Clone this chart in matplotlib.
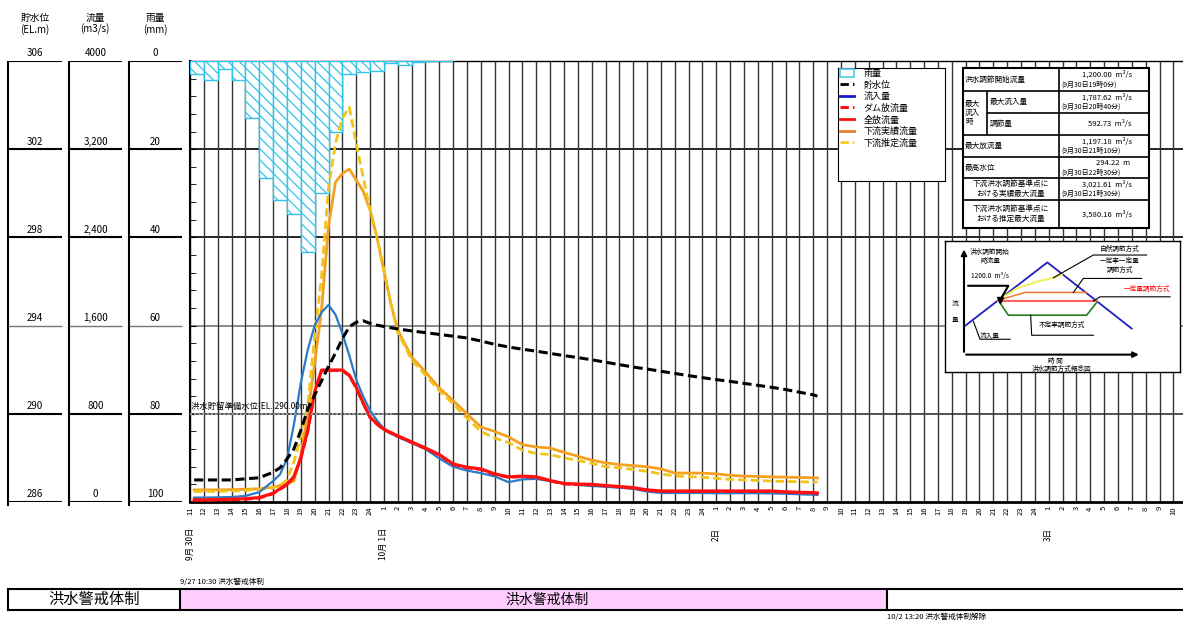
import matplotlib
matplotlib.use("Agg")
import matplotlib.pyplot as plt
from matplotlib.patches import Patch, Rectangle
from matplotlib.lines import Line2D
from matplotlib.ticker import MultipleLocator
from matplotlib.transforms import blended_transform_factory

plt.rcParams['font.family'] = ['Noto Sans CJK JP', 'DejaVu Sans']
plt.rcParams['hatch.linewidth'] = 0.9

# ---- データ ----
# 時刻 (9/30 11:00 からの経過時間 [h])
t_hours = [0.3, 1, 2, 3, 4, 5, 6, 6.5, 7, 7.5, 8, 8.5, 9, 9.5, 10, 10.5, 11, 11.5,
           12, 12.5, 13, 13.5, 14, 14.5, 15, 16, 17, 18, 19, 20, 21, 22, 23, 24,
           25, 26, 27, 28, 29, 30, 31, 32, 33, 34, 35, 36, 37, 38, 39, 40, 41, 42,
           43, 44, 45, 45.3]

water_level = [287.0, 287.0, 287.0, 287.0, 287.05, 287.1, 287.35, 287.55, 287.95, 288.4,
               289.25, 290.2, 290.85, 291.5, 292.15, 292.75, 293.4, 293.95, 294.15, 294.22,
               294.1, 294.02, 293.96, 293.9, 293.85, 293.76, 293.68, 293.6, 293.52, 293.44,
               293.3, 293.15, 293.03, 292.93, 292.84, 292.74, 292.64, 292.55, 292.45, 292.34,
               292.23, 292.12, 292.03, 291.93, 291.83, 291.73, 291.64, 291.55, 291.47, 291.38,
               291.29, 291.2, 291.1, 290.98, 290.86, 290.8]

inflow = [40, 40, 42, 45, 55, 90, 190, 250, 390, 700, 1080, 1380, 1600, 1720, 1788, 1700,
          1530, 1330, 1110, 960, 830, 740, 665, 620, 590, 535, 480, 395, 320, 285, 262, 232,
          180, 205, 210, 190, 170, 155, 145, 138, 130, 120, 95, 82, 82, 82, 82, 80, 80, 80,
          80, 78, 75, 70, 66, 64]

dam_outflow = [15, 15, 17, 20, 25, 35, 75, 115, 155, 225, 390, 640, 990, 1190, 1192, 1192,
               1192, 1145, 1035, 895, 765, 705, 655, 625, 595, 540, 485, 425, 340, 310, 295,
               250, 223, 230, 223, 190, 163, 158, 155, 145, 135, 125, 105, 95, 95, 95, 95, 95,
               95, 95, 95, 95, 88, 84, 80, 78]

total_outflow = [20, 20, 22, 25, 30, 40, 80, 120, 160, 230, 400, 650, 1000, 1197, 1197, 1197,
                 1197, 1150, 1040, 900, 770, 710, 660, 630, 600, 545, 490, 430, 345, 315, 300,
                 255, 228, 235, 228, 195, 168, 163, 160, 150, 140, 130, 110, 100, 100, 100,
                 100, 100, 100, 100, 100, 100, 92, 88, 85, 82]

down_actual = [110, 110, 110, 112, 115, 120, 135, 150, 165, 190, 420, 800, 1250, 1750, 2500,
               2900, 2980, 3020, 2920, 2820, 2650, 2400, 2100, 1800, 1560, 1315, 1180, 1034,
               920, 800, 680, 640, 590, 520, 499, 490, 450, 415, 380, 355, 340, 330, 320, 300,
               263, 263, 262, 255, 242, 235, 232, 228, 225, 222, 220, 218]

down_estimate = [95, 95, 97, 100, 105, 115, 130, 150, 200, 360, 600, 870, 1500, 2050, 2850,
                 3250, 3480, 3580, 3250, 2950, 2650, 2400, 2100, 1800, 1540, 1290, 1150, 1010,
                 890, 760, 640, 580, 540, 470, 440, 430, 400, 378, 350, 320, 310, 295, 278, 255,
                 236, 230, 225, 215, 205, 200, 195, 190, 186, 183, 181, 181]

# 時間雨量 (9/30 11時台から)
rain_start = [0, 1, 2, 3, 4, 5, 6, 7, 8, 9, 10, 11, 12, 13, 14, 15, 16, 17, 18]
rain_mm = [2.9, 4.3, 1.8, 4.3, 12.9, 26.5, 31.5, 34.7, 43.3, 29.9, 16.1, 3.0, 2.5, 2.3,
           0.5, 0.9, 0.2, 0.1, 0.1]

hour_labels = ([str(h) for h in range(11, 25)] + [str(h) for h in range(1, 25)] * 2
               + [str(h) for h in range(1, 11)])
date_pos = [0, 14, 38, 62]
date_labels = ["9月 30日", "10月 1日", "2日", "3日"]

wl_ticks = [306, 302, 298, 294, 290, 286]
flow_ticks = ["4000", "3,200", "2,400", "1,600", "800", "0"]
rain_ticks = ["0", "20", "40", "60", "80", "100"]

table_rows = ["洪水調節開始流量", "最大流入量", "調節量", "最大放流量", "最高水位",
              "下流洪水調節基準点に\nおける実績最大流量", "下流洪水調節基準点に\nおける推定最大流量"]
table_vals = ["1,200.00  m³/s", "1,787.62  m³/s", "592.73  m³/s", "1,197.18  m³/s",
              "294.22  m ", "3,021.61  m³/s", "3,580.16  m³/s"]
table_times = ["(9月30日19時0分)", "(9月30日20時40分)", "", "(9月30日21時10分)",
               "(9月30日22時30分)", "(9月30日21時30分)", ""]

alert_end = 50 + 20 / 60  # 10/2 13:20

# ---- レイアウト ----
W, H = 1183, 621
PX_PER_HR = 13.85
XMAX = (W - 190) / PX_PER_HR


def px_rect(x0, y0, x1, y1):
    return [x0 / W, 1 - y1 / H, (x1 - x0) / W, (y1 - y0) / H]


fig = plt.figure(figsize=(W / 100, H / 100), dpi=100)

ax = fig.add_axes(px_rect(190, 61, W, 502))
ax.set_xlim(0, XMAX)
ax.set_ylim(0, 4000)
ax.set_xticks(range(72))
ax.set_xticklabels(hour_labels, rotation=90, fontsize=5.5)
ax.tick_params(axis='x', length=0, pad=3)
ax.grid(axis='x', color='#333333', lw=1)
ax.yaxis.set_major_locator(MultipleLocator(800))
ax.yaxis.set_minor_locator(MultipleLocator(160))
ax.tick_params(axis='y', which='both', direction='in', length=4, labelleft=False)
for y, c in zip([800, 1600, 2400, 3200], ['#333333', '#777777', 'black', 'black']):
    ax.axhline(y, color=c, lw=1.2, zorder=1)
ax.spines['right'].set_visible(False)
ax.spines['left'].set_linewidth(1.5)
ax.spines['bottom'].set_linewidth(2)
ax.spines['top'].set_linewidth(1)

tr = blended_transform_factory(ax.transData, ax.transAxes)
for x, lab in zip(date_pos, date_labels):
    ax.text(x, -0.058, lab, transform=tr, rotation=90, ha='center', va='top', fontsize=6)

# 雨量
ax_rain = ax.twinx()
ax_rain.set_ylim(100, 0)
ax_rain.bar(rain_start, rain_mm, width=1, align='edge', facecolor='white',
            edgecolor='#33c3e8', hatch='\\\\\\', lw=1)

# 流量
ax_q = ax.twinx()
ax_q.set_ylim(0, 4000)
ax_q.plot(t_hours, down_actual, color='#f5a020', lw=2)
ax_q.plot(t_hours, down_estimate, color='#f0c419', lw=2, ls='--', dashes=(3, 1.5))
ax_q.plot(t_hours, inflow, color='#2a7ac8', lw=1.6)
ax_q.plot(t_hours, dam_outflow, color='#ff0000', lw=2, ls='--', dashes=(3, 1.5))
ax_q.plot(t_hours, total_outflow, color='#ff1010', lw=2.3)

# 貯水位
ax_wl = ax.twinx()
ax_wl.set_ylim(286, 306)
ax_wl.plot(t_hours, water_level, color='black', lw=2.2, ls='--', dashes=(3, 1.5))
ax_wl.hlines(290, 0, 14.6, colors='#999999', linestyles=(0, (1, 1)), lw=1.5)
ax_wl.text(0.05, 290.1, "洪水貯留準備水位(EL. 290.00m)", fontsize=6, va='bottom', ha='left')

for a in (ax_rain, ax_q, ax_wl):
    a.set_yticks([])
    a.tick_params(right=False, labelright=False)
    for s in a.spines.values():
        s.set_visible(False)

# 左の目盛り欄
axl = fig.add_axes(px_rect(0, 61, 190, 502))
axl.set_xlim(0, 190)
axl.set_ylim(286, 306)
axl.axis('off')
cols = [(8, 62), (69, 122), (129, 182)]
for (x0, x1), labels in zip(cols, [[str(v) for v in wl_ticks], flow_ticks, rain_ticks]):
    axl.vlines(x0, 285.8, 306, colors='black', lw=1.5, clip_on=False)
    for v, lab in zip(wl_ticks, labels):
        c = '#777777' if v == 294 else 'black'
        axl.hlines(v, x0, x1, colors=c, lw=1.5 if c == 'black' else 1)
        axl.text((x0 + x1) / 2, v + 0.12, lab, ha='center', va='bottom', fontsize=7)
for x, head in zip([35, 95, 155], ["貯水位\n(EL.m)", "流量\n(m3/s)", "雨量\n(mm)"]):
    fig.text(x / W, 1 - 24 / H, head, ha='center', va='center', fontsize=7, linespacing=1.1)

# 凡例
axleg = fig.add_axes(px_rect(838, 68, 945, 181))
axleg.set_xticks([])
axleg.set_yticks([])
handles = [Patch(facecolor='white', edgecolor='#4cc8e8', lw=1.2),
           Line2D([], [], color='black', lw=2, ls='--', dashes=(3, 1.5)),
           Line2D([], [], color='#1a1acc', lw=2),
           Line2D([], [], color='#ff0000', lw=2, ls='--', dashes=(3, 1.5)),
           Line2D([], [], color='#ff1010', lw=2),
           Line2D([], [], color='#e8822a', lw=2),
           Line2D([], [], color='#f0d020', lw=2, ls='--', dashes=(3, 1.5))]
names = ["雨量", "貯水位", "流入量", "ダム放流量", "全放流量", "下流実績流量", "下流推定流量"]
fig.legend(handles, names, loc='upper left', bbox_to_anchor=(840 / W, 1 - 69 / H),
           frameon=False, fontsize=6.5, handlelength=1.6, handleheight=0.9,
           labelspacing=0.28, handletextpad=1.0, borderaxespad=0, borderpad=0)

# 表
axt = fig.add_axes(px_rect(963, 68, 1149, 228))
axt.set_xlim(963, 1149)
axt.set_ylim(228, 68)
axt.set_xticks([])
axt.set_yticks([])
for s in axt.spines.values():
    s.set_linewidth(1.5)
row_y = [68, 91, 113, 135, 157, 178, 200, 228]
for i, y in enumerate(row_y[1:-1], start=1):
    axt.hlines(y, 987 if i == 2 else 963, 1149, colors='black', lw=1.2)
axt.vlines(1059, 68, 228, colors='black', lw=1.2)
axt.vlines(987, 91, 135, colors='black', lw=1.2)
axt.text(965, 113, "最大\n流入\n時", fontsize=5.5, va='center', ha='left', linespacing=1.1)
for i, (lab, val, tm) in enumerate(zip(table_rows, table_vals, table_times)):
    yc = (row_y[i] + row_y[i + 1]) / 2
    if i >= 5:
        axt.text(1011, yc, lab, fontsize=5.5, ha='center', va='center', linespacing=1.2)
    else:
        axt.text(990 if i in (1, 2) else 965, yc, lab, fontsize=5.5, ha='left', va='center')
    if tm:
        axt.text(1132, yc - 5, val, fontsize=5.5, ha='right', va='center')
        axt.text(1061, yc + 5, tm, fontsize=5, ha='left', va='center')
    else:
        axt.text(1132, yc, val, fontsize=5.5, ha='right', va='center')

# 洪水調節方式概念図
axi = fig.add_axes(px_rect(945, 241, 1180, 372))
axi.set_xlim(15, 720)
axi.set_ylim(410, 18)
axi.set_xticks([])
axi.set_yticks([])
for s in axi.spines.values():
    s.set_linewidth(1)
axi.annotate("", xy=(72, 35), xytext=(72, 358),
             arrowprops=dict(arrowstyle='-|>', color='black', lw=1.5, mutation_scale=8))
axi.annotate("", xy=(605, 358), xytext=(70, 358),
             arrowprops=dict(arrowstyle='-|>', color='black', lw=1.5, mutation_scale=8))
axi.plot([75, 322, 575], [272, 82, 280], color='#2020c0', lw=1.3)
axi.plot([175, 230, 290, 340, 365], [195, 160, 140, 128, 118], color='#f0f060', lw=1.5)
axi.plot([175, 255, 440], [195, 172, 172], color='#f08040', lw=1.2)
axi.plot([175, 470], [198, 198], color='#ff6060', lw=1.5)
axi.plot([178, 205, 440, 470], [200, 240, 240, 202], color='#208020', lw=1.2)
axi.plot([85, 205, 182], [152, 152, 192], color='black', lw=1.5)
axi.plot([180], [195], marker='v', color='black', ms=4)
axi.plot([100, 120, 210], [258, 312, 312], color='black', lw=0.8)
axi.plot([340, 460, 620], [128, 60, 60], color='black', lw=0.8)
axi.plot([400, 430, 605], [172, 130, 130], color='black', lw=0.8)
axi.plot([460, 480, 690], [198, 185, 185], color='black', lw=0.8)
axi.plot([272, 275, 460], [240, 300, 300], color='black', lw=0.8)
fs = 4.8
axi.text(150, 65, "洪水調節開始\n時流量", fontsize=fs, ha='center', va='center', linespacing=1.1)
axi.text(150, 122, "1200.0  m³/s", fontsize=fs, ha='center', va='center')
axi.text(45, 205, "流", fontsize=fs, ha='center', va='center')
axi.text(45, 255, "量", fontsize=fs, ha='center', va='center')
axi.text(150, 298, "流入量", fontsize=fs, ha='center', va='center')
axi.text(540, 42, "自然調節方式", fontsize=fs, ha='center', va='center')
axi.text(540, 78, "一定率一定量", fontsize=fs, ha='center', va='center')
axi.text(540, 104, "調節方式", fontsize=fs, ha='center', va='center')
axi.text(622, 160, "一定量調節方式", fontsize=fs, ha='center', va='center', color='red')
axi.text(365, 270, "不定率調節方式", fontsize=fs, ha='center', va='center')
axi.text(345, 378, "時 間", fontsize=fs, ha='center', va='center')
axi.text(365, 402, "洪水調節方式概念図", fontsize=fs, ha='center', va='center')

# 洪水警戒体制
axb = fig.add_axes(px_rect(8, 589, W, 610))
band_left = (8 - 190) / PX_PER_HR
label_edge = (180 - 190) / PX_PER_HR
axb.set_xlim(band_left, XMAX)
axb.set_ylim(0, 1)
axb.set_xticks([])
axb.set_yticks([])
axb.spines['right'].set_visible(False)
for s in ('left', 'top', 'bottom'):
    axb.spines[s].set_linewidth(1.5)
axb.add_patch(Rectangle((label_edge, 0), alert_end - label_edge, 1, facecolor='#ffccff',
                        edgecolor='none'))
axb.vlines([label_edge, alert_end], 0, 1, colors='black', lw=1.5)
axb.text((band_left + label_edge) / 2, 0.5, "洪水警戒体制", fontsize=11, ha='center', va='center')
axb.text((label_edge + alert_end) / 2 + 1, 0.5, "洪水警戒体制", fontsize=10, ha='center',
         va='center')
axb.text(label_edge, 1.15, "9/27 10:30 洪水警戒体制", fontsize=5.5, ha='left', va='bottom')
axb.text(alert_end, -0.15, "10/2 13:20 洪水警戒体制解除", fontsize=5.5, ha='left', va='top')

fig.savefig("out.png", dpi=100)
